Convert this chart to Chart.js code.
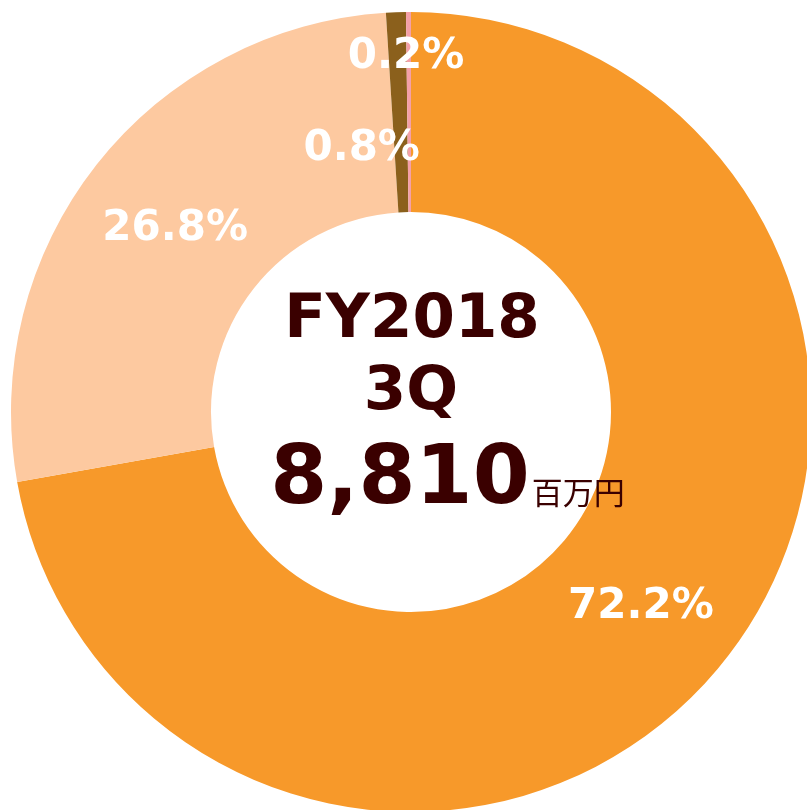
<!DOCTYPE html>
<html>
<head>
<meta charset="utf-8">
<script src="https://cdn.jsdelivr.net/npm/chart.js@4/dist/chart.umd.min.js"></script>
<style>
html,body{margin:0;padding:0;background:#fff;overflow:hidden;width:807px;height:810px;}
canvas{display:block;position:absolute;left:0;top:0;}
</style>
</head>
<body>
<canvas id="c" width="822" height="824"></canvas>
<script>
const categories = ["A", "B", "C", "D"];
const shares = [72.2, 26.8, 0.8, 0.2];
const labelsText = ["72.2%", "26.8%", "0.8%", "0.2%"];
const sliceColors = ["#F7992A", "#FDC9A0", "#8B601C", "#F4A0A8"];
const centerTitle = ["FY2018", "3Q"];
const centerValue = "8,810";
const centerUnit = "百万円";

const FONT = '"DejaVu Sans", Verdana, sans-serif';

const labelPlugin = {
  id: 'sliceLabels',
  afterDatasetsDraw(chart, args, opts) {
    const ctx = chart.ctx;
    const meta = chart.getDatasetMeta(0);
    ctx.save();
    ctx.fillStyle = '#FFFFFF';
    ctx.font = 'bold 42px ' + FONT;
    ctx.textAlign = 'center';
    ctx.textBaseline = 'middle';
    meta.data.forEach((arc, i) => {
      const p = arc.getProps(['x','y','startAngle','endAngle','innerRadius','outerRadius'], true);
      const a = (p.startAngle + p.endAngle) / 2;
      const r = (p.innerRadius + p.outerRadius) / 2;
      const off = (opts.offsets && opts.offsets[i]) || [0, 0];
      const x = p.x + Math.cos(a) * r + off[0];
      const y = p.y + Math.sin(a) * r + off[1];
      ctx.fillText(labelsText[i], x, y);
    });
    ctx.restore();
  }
};

const centerPlugin = {
  id: 'centerText',
  afterDraw(chart) {
    const ctx = chart.ctx;
    const meta = chart.getDatasetMeta(0);
    const arc = meta.data[0];
    const cx = arc.x, cy = arc.y;
    ctx.save();
    ctx.fillStyle = '#3A0000';
    ctx.textAlign = 'center';
    ctx.textBaseline = 'alphabetic';
    ctx.font = 'bold 61px ' + FONT;
    ctx.fillText(centerTitle[0], cx + 1, cy - 75);
    ctx.fillText(centerTitle[1], cx, cy - 3);
    ctx.font = 'bold 82px ' + FONT;
    ctx.textAlign = 'left';
    const w = ctx.measureText(centerValue).width;
    const x0 = cx - 11 - w / 2;
    ctx.fillText(centerValue, x0, cy + 91);
    ctx.font = '31px "Noto Sans CJK JP", sans-serif';
    ctx.fillText(centerUnit, x0 + w + 2, cy + 92);
    ctx.restore();
  }
};

new Chart(document.getElementById('c'), {
  type: 'doughnut',
  data: {
    labels: categories,
    datasets: [{
      data: shares,
      backgroundColor: sliceColors,
      borderWidth: 0
    }]
  },
  options: {
    responsive: false,
    animation: false,
    cutout: '50%',
    layout: { padding: { left: 11, right: 11, top: 12, bottom: 12 } },
    plugins: {
      legend: { display: false },
      tooltip: { enabled: false },
      sliceLabels: { offsets: [[0, 2], [0, 2], [-38, 37], [-3, -55]] }
    }
  },
  plugins: [labelPlugin, centerPlugin]
});
</script>
</body>
</html>
